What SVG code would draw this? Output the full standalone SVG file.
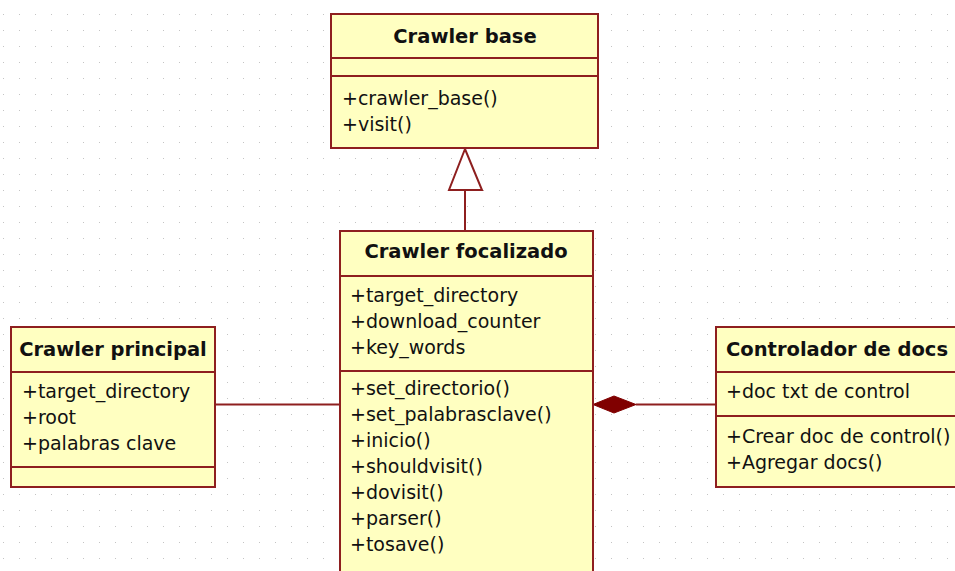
<svg xmlns="http://www.w3.org/2000/svg" width="955" height="571" viewBox="0 0 955 571">
<style>
.box{fill:#FFFFC1;stroke:#8E1F1F;stroke-width:2}
.div{stroke:#8E1F1F;stroke-width:2}
.t{font-family:"DejaVu Sans",sans-serif;font-size:19px;fill:#111}
.h{font-family:"DejaVu Sans",sans-serif;font-size:19.5px;font-weight:bold;fill:#111;text-anchor:middle}
.hl{font-family:"DejaVu Sans",sans-serif;font-size:19.5px;font-weight:bold;fill:#111}
.c{stroke:#8E1F1F;stroke-width:2;fill:none}
</style>
<defs>
<pattern id="grid" width="16" height="16" patternUnits="userSpaceOnUse">
<rect x="3" y="14" width="1" height="1" fill="#c4c4c4"/>
</pattern>
</defs>
<rect width="955" height="571" fill="#ffffff"/>
<rect width="955" height="571" fill="url(#grid)"/>
<g id="connectors">
<line class="c" x1="215" y1="404.5" x2="340" y2="404.5"/>
<line class="c" x1="636" y1="404.5" x2="716" y2="404.5"/>
<polygon points="593,404.5 614,396 636,404.5 614,413" fill="#800000" stroke="#800000" stroke-width="1"/>
<line class="c" x1="465" y1="190" x2="465" y2="231"/>
<polygon points="465,149 449,190 482,190" fill="#ffffff" stroke="#8E1F1F" stroke-width="2"/>
</g>
<g id="crawler-base">
<rect class="box" x="331" y="14" width="267" height="134"/>
<line class="div" x1="331" y1="58" x2="598" y2="58"/>
<line class="div" x1="331" y1="76" x2="598" y2="76"/>
<text class="h" x="465" y="43">Crawler base</text>
<text class="t" x="342" y="104.5">+crawler_base()</text>
<text class="t" x="342" y="130.5">+visit()</text>
</g>
<g id="crawler-focalizado">
<rect class="box" x="340" y="231" width="253" height="370"/>
<line class="div" x1="340" y1="276" x2="593" y2="276"/>
<line class="div" x1="340" y1="371" x2="593" y2="371"/>
<text class="h" x="466" y="258">Crawler focalizado</text>
<text class="t" x="350" y="302">+target_directory</text>
<text class="t" x="350" y="328">+download_counter</text>
<text class="t" x="350" y="354">+key_words</text>
<text class="t" x="350" y="395">+set_directorio()</text>
<text class="t" x="350" y="421">+set_palabrasclave()</text>
<text class="t" x="350" y="447">+inicio()</text>
<text class="t" x="350" y="473">+shouldvisit()</text>
<text class="t" x="350" y="499">+dovisit()</text>
<text class="t" x="350" y="525">+parser()</text>
<text class="t" x="350" y="551">+tosave()</text>
</g>
<g id="crawler-principal">
<rect class="box" x="11" y="327" width="204" height="160"/>
<line class="div" x1="11" y1="372" x2="215" y2="372"/>
<line class="div" x1="11" y1="467" x2="215" y2="467"/>
<text class="h" x="113" y="356">Crawler principal</text>
<text class="t" x="22" y="398">+target_directory</text>
<text class="t" x="22" y="424">+root</text>
<text class="t" x="22" y="450">+palabras clave</text>
</g>
<g id="controlador-de-docs">
<rect class="box" x="716" y="327" width="250" height="160"/>
<line class="div" x1="716" y1="372" x2="966" y2="372"/>
<line class="div" x1="716" y1="416" x2="966" y2="416"/>
<text class="hl" x="726" y="356">Controlador de docs</text>
<text class="t" x="726" y="398">+doc txt de control</text>
<text class="t" x="726" y="443">+Crear doc de control()</text>
<text class="t" x="726" y="469">+Agregar docs()</text>
</g>
</svg>
